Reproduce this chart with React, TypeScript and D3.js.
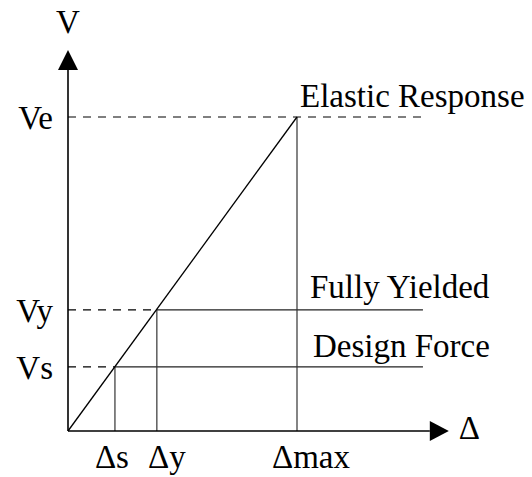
import React from "react";
import * as d3 from "d3";

const levels = ["Ve", "Vy", "Vs"];
const forceValues = [100, 38.6, 20.4];
const dispLabels = ["Δmax", "Δy", "Δs"];
const dispValues = [100, 38.8, 20.5];
const levelNames = ["Elastic Response", "Fully Yielded", "Design Force"];
const axisMaxX = 158;
const axisMaxY = 115;
const lineEndX = 155;

export default function App() {
  const W = 532, H = 477;
  const x = d3.scaleLinear().domain([0, 100]).range([68, 297]);
  const y = d3.scaleLinear().domain([0, 100]).range([431, 117]);
  const font = `"Liberation Serif", "Times New Roman", Times, serif`;
  const fs = 33;
  const line = d3.line<[number, number]>().x(d => x(d[0])).y(d => y(d[1]));
  const nameDx = [3, 13, 16];
  const nameDy = [-10, -12, -10];
  const dispDx = [14, 10, -3];
  const ts = { fontFamily: font, fontSize: fs } as React.CSSProperties;
  return (
    <svg width={W} height={H} style={{ position: "absolute", left: 0, top: 0, background: "#fff" }}>
      {forceValues.map((v, i) => (
        <line key={"d" + i} x1={x(0)} x2={i === 0 ? x(lineEndX) : x(dispValues[i])} y1={y(v)} y2={y(v)}
          stroke="#000" strokeWidth={1.2} strokeDasharray="8,7" />
      ))}
      {forceValues.slice(1).map((v, i) => (
        <line key={"h" + i} x1={x(dispValues[i + 1])} x2={x(lineEndX)} y1={y(v)} y2={y(v)}
          stroke="#222" strokeWidth={1.3} />
      ))}
      {dispValues.map((d, i) => (
        <line key={"v" + i} x1={x(d)} x2={x(d)} y1={y(forceValues[i])} y2={y(0)}
          stroke="#333" strokeWidth={1.2} />
      ))}
      <path d={line([[0, 0], [dispValues[0], forceValues[0]]]) || ""} fill="none" stroke="#000" strokeWidth={1.3} />
      <line x1={x(0)} x2={x(0)} y1={y(0)} y2={y(axisMaxY)} stroke="#000" strokeWidth={1.6} />
      <line x1={x(0)} x2={x(axisMaxX)} y1={y(0)} y2={y(0)} stroke="#000" strokeWidth={1.6} />
      <path d={`M${x(0) - 10},${y(axisMaxY)} L${x(0) + 10},${y(axisMaxY)} L${x(0)},${y(axisMaxY) - 20} Z`} fill="#000" />
      <path d={`M${x(axisMaxX)},${y(0) - 10} L${x(axisMaxX)},${y(0) + 10} L${x(axisMaxX) + 19},${y(0)} Z`} fill="#000" />
      <text x={x(0)} y={y(axisMaxY) - 37} textAnchor="middle" style={ts}>V</text>
      <text x={x(axisMaxX) + 29} y={y(0) + 8} style={ts}>Δ</text>
      {levels.map((l, i) => (
        <text key={"yl" + i} x={x(0) - 15} y={y(forceValues[i]) + 12} textAnchor="end" style={ts}>{l}</text>
      ))}
      {dispLabels.map((l, i) => (
        <text key={"xl" + i} x={x(dispValues[i]) + dispDx[i]} y={y(0) + 37} textAnchor="middle" style={ts}>{l}</text>
      ))}
      {levelNames.map((n, i) => (
        <text key={"n" + i} x={x(dispValues[0]) + nameDx[i]} y={y(forceValues[i]) + nameDy[i]} style={ts}>{n}</text>
      ))}
    </svg>
  );
}
